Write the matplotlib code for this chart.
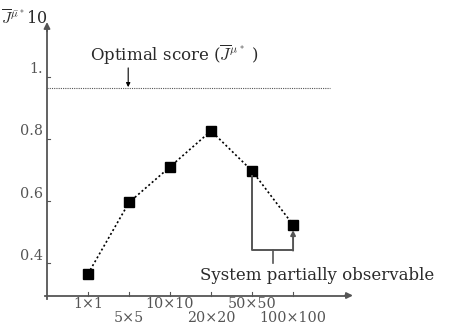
import numpy as np
import matplotlib.pyplot as plt

# data
sizes = ["1×1", "5×5", "10×10", "20×20", "50×50", "100×100"]
scores = [0.365, 0.595, 0.71, 0.826, 0.697, 0.523]
optimal = 0.965
yticks = [0.4, 0.6, 0.8, 1.0]
ytick_labels = ["0.4", "0.6", "0.8", "1."]

plt.rcParams['font.family'] = 'serif'
plt.rcParams['font.serif'] = ['DejaVu Serif']
plt.rcParams['mathtext.fontset'] = 'cm'

gray = '#555555'
dark = '#2a2a2a'
fs = 12
tfs = 10.3

fig = plt.figure(figsize=(4.53, 3.27), dpi=100)
ax = fig.add_axes([0, 0, 1, 1])
ax.set_xlim(-1.146, 9.90)
ax.set_ylim(0.1935, 1.248)
ax.axis('off')

xs = np.arange(1, len(sizes) + 1)
ymin = 0.295
xmax = 7.46
ytop = 1.177

# axes with arrow heads
ax.plot([-0.05, xmax - 0.1], [ymin, ymin], color=gray, lw=1.3)
ax.plot([0, 0], [ymin - 0.01, ytop - 0.02], color=gray, lw=1.3)
ax.annotate('', xy=(xmax, ymin), xytext=(xmax - 0.2, ymin),
            arrowprops=dict(arrowstyle='-|>', color=gray, lw=1.3, mutation_scale=9,
                            shrinkA=0, shrinkB=0))
ax.annotate('', xy=(0, ytop), xytext=(0, ytop - 0.03),
            arrowprops=dict(arrowstyle='-|>', color=gray, lw=1.3, mutation_scale=9,
                            shrinkA=0, shrinkB=0))

# y ticks
for v, lab in zip(yticks, ytick_labels):
    ax.plot([0, 0.08], [v, v], color=gray, lw=0.8)
    ax.text(-0.1, v + 0.024, lab, ha='right', va='center', fontsize=tfs, color=gray)

# x ticks, labels alternating in two rows
for i, (x, lab) in enumerate(zip(xs, sizes)):
    ax.plot([x, x], [ymin, ymin + 0.012], color=gray, lw=0.8)
    off = 0.027 if i % 2 == 0 else 0.072
    ax.text(x, ymin - off, lab, ha='center', va='center', fontsize=tfs, color=gray)

ax.text(-1.12, 1.185, r"$\overline{J}^{\bar{\mu}^*}$10", ha='left', va='center',
        fontsize=fs - 0.5, color=dark)

# optimal score line
ax.plot([0, 6.9], [optimal, optimal], color=gray, lw=0.8, ls=(0, (1, 1)))
ax.text(3.12, 1.071, r"Optimal score ($\overline{J}^{\mu^*}$ )", ha='center', va='center',
        fontsize=fs, color=dark)
ax.annotate('', xy=(1.98, optimal + 0.002), xytext=(1.98, 1.029),
            arrowprops=dict(arrowstyle='-|>', color='black', lw=0.8, mutation_scale=6,
                            shrinkA=0, shrinkB=0))

# series
ax.plot(xs, scores, color='black', lw=1.2, ls=(0, (1.2, 1.5)),
        marker='s', markersize=6.5, markerfacecolor='black', markeredgecolor='black')

# bracket between the last two points
low = 0.442
ax.plot([xs[4], xs[4], xs[5]], [scores[4] - 0.017, low, low], color=gray, lw=1.4)
ax.annotate('', xy=(xs[5], scores[5] - 0.017), xytext=(xs[5], low - 0.002),
            arrowprops=dict(arrowstyle='-|>', color=gray, lw=1.4, mutation_scale=7,
                            shrinkA=0, shrinkB=0))
ax.plot([(xs[4] + xs[5]) / 2] * 2, [low, low - 0.042], color=gray, lw=1.2)
ax.text(6.59, 0.361, "System partially observable", ha='center', va='center',
        fontsize=fs, color=dark)

fig.savefig('out.png', dpi=100)
